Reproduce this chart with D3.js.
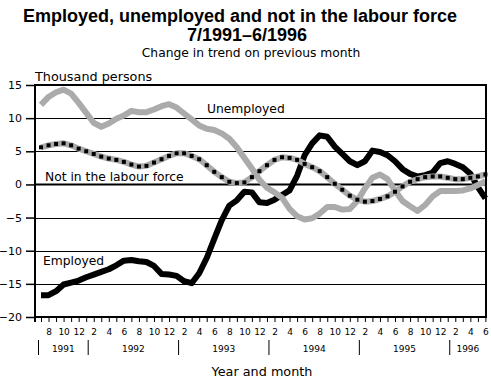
<!DOCTYPE html>
<html>
<head>
<meta charset="utf-8">
<script src="https://cdn.jsdelivr.net/npm/d3@7"></script>
<style>
  html, body { margin: 0; padding: 0; background: #fff; }
  svg { display: block; }
  text { font-family: "DejaVu Sans", Verdana, sans-serif; fill: #000; }
  .title { font-family: "Liberation Sans", Arial, sans-serif; font-weight: bold; }
</style>
</head>
<body>
<svg id="chart" width="491" height="384"></svg>
<script>
// ---- Data (Jul 1991 .. Jun 1996), change in trend on previous month, thousand persons ----
const monthNumbers = [7,8,9,10,11,12,
  1,2,3,4,5,6,7,8,9,10,11,12,
  1,2,3,4,5,6,7,8,9,10,11,12,
  1,2,3,4,5,6,7,8,9,10,11,12,
  1,2,3,4,5,6,7,8,9,10,11,12,
  1,2,3,4,5,6];
const years = ["1991","1992","1993","1994","1995","1996"];
const yTicks = [15,10,5,0,-5,-10,-15,-20];

const employed = [
  -16.7,-16.7,-16.1,-15.1,-14.8,-14.5,
  -14.0,-13.6,-13.2,-12.8,-12.2,-11.5,-11.4,-11.6,-11.7,-12.3,-13.5,-13.6,
  -13.8,-14.6,-14.9,-13.4,-11.1,-8.2,-5.4,-3.2,-2.4,-1.1,-1.2,-2.7,
  -2.8,-2.3,-1.6,-0.9,1.3,4.4,6.2,7.4,7.2,5.7,4.6,3.5,
  2.9,3.5,5.1,4.9,4.4,3.5,2.3,1.6,1.2,1.4,1.8,3.2,
  3.5,3.1,2.6,1.6,-0.4,-2.1];
const unemployed = [
  12.0,13.2,13.9,14.3,13.7,12.3,
  10.8,9.3,8.7,9.2,9.9,10.4,11.1,10.9,10.9,11.3,11.8,12.1,
  11.6,10.7,9.8,8.9,8.4,8.2,7.7,6.9,5.6,4.0,2.4,0.7,
  -0.5,-1.2,-2.0,-3.7,-4.8,-5.3,-5.1,-4.4,-3.4,-3.4,-3.8,-3.7,
  -2.5,-0.6,1.0,1.5,0.8,-0.9,-2.5,-3.3,-4.0,-3.1,-1.8,-1.0,
  -1.0,-1.0,-0.9,-0.6,-0.1,0.5];
const notInLabourForce = [
  5.6,5.9,6.1,6.2,5.9,5.4,
  5.0,4.6,4.2,3.9,3.7,3.4,3.0,2.7,2.8,3.3,3.8,4.3,
  4.7,4.7,4.3,3.8,2.9,1.9,1.1,0.4,0.2,0.3,1.1,2.0,
  2.9,3.7,4.1,4.0,3.7,3.1,2.6,2.0,1.1,0.1,-0.8,-1.7,
  -2.3,-2.6,-2.5,-2.2,-1.8,-1.1,-0.3,0.4,0.8,1.1,1.2,1.2,
  1.0,0.8,0.8,1.0,1.2,1.5];

// ---- Layout ----
const svg = d3.select("#chart");
const L = 35, R = 486, T = 85, B = 317;
const x = d3.scaleLinear().domain([0, monthNumbers.length - 1]).range([41, 485.4]);
const y = d3.scaleLinear().domain([-20, 15]).range([B, T]);
const grayCol = "#ababab";

// Titles
svg.append("text").attr("class","title").attr("x",240).attr("y",22)
  .attr("text-anchor","middle").style("font-size","18px")
  .text("Employed, unemployed and not in the labour force");
svg.append("text").attr("class","title").attr("x",247).attr("y",41)
  .attr("text-anchor","middle").style("font-size","18px")
  .text("7/1991\u20136/1996");
svg.append("text").attr("x",251).attr("y",57)
  .attr("text-anchor","middle").style("font-size","12.3px")
  .text("Change in trend on previous month");
svg.append("text").attr("x",35).attr("y",81)
  .style("font-size","12.8px")
  .text("Thousand persons");

// Gridlines
svg.append("g").selectAll("line").data(yTicks.filter(v => v > -20 && v < 15)).join("line")
  .attr("x1", L).attr("x2", R)
  .attr("y1", d => Math.round(y(d)) + 0.5).attr("y2", d => Math.round(y(d)) + 0.5)
  .attr("stroke", "#000").attr("stroke-width", d => d === 0 ? 2 : 1);

// Y axis (ticks outward, labels)
const yAxis = d3.axisLeft(y).tickValues(yTicks).tickSize(9).tickPadding(4)
  .tickFormat(d3.format("d"));
const gy = svg.append("g").attr("transform", `translate(${L},0)`).call(yAxis);
gy.select(".domain").remove();
gy.selectAll(".tick line").attr("stroke","#000").attr("stroke-width",1.5);
gy.selectAll(".tick text").style("font-size","11px").style("font-family","DejaVu Sans, sans-serif");

// X axis (monthly ticks)
const xAxis = d3.axisBottom(x).tickValues(d3.range(monthNumbers.length)).tickSize(5)
  .tickFormat(i => monthNumbers[i] % 2 === 0 ? String(monthNumbers[i]) : "").tickPadding(7);
const gx = svg.append("g").attr("transform", `translate(0,${B})`).call(xAxis);
gx.select(".domain").remove();
gx.selectAll(".tick line").attr("stroke","#000").attr("stroke-width",1);
gx.selectAll(".tick text").style("font-size","9px").style("font-family","DejaVu Sans, sans-serif");

// Year separators and labels
const janIdx = monthNumbers.map((m,i) => m === 1 ? i : -1).filter(i => i >= 0);
const bounds = [x(0) - 2.5, ...janIdx.map(i => x(i) + 2), R];
svg.append("g").selectAll("line").data(bounds.slice(0, -1)).join("line")
  .attr("x1", d => d).attr("x2", d => d).attr("y1", 340).attr("y2", 355)
  .attr("stroke", "#000").attr("stroke-width", 1);
svg.append("g").selectAll("text").data(years).join("text")
  .attr("x", (d,i) => (bounds[i] + bounds[i+1]) / 2).attr("y", 352)
  .attr("text-anchor","middle").style("font-size","9px").text(d => d);

svg.append("text").attr("x",262).attr("y",376).attr("text-anchor","middle")
  .style("font-size","12.8px").text("Year and month");

// Lines
const line = d3.line().x((d,i) => x(i)).y(d => y(d));
svg.append("path").datum(employed).attr("d", line)
  .attr("fill","none").attr("stroke","#000").attr("stroke-width",6)
  .attr("stroke-linejoin","round");
svg.append("path").datum(notInLabourForce).attr("d", line)
  .attr("fill","none").attr("stroke",grayCol).attr("stroke-width",6)
  .attr("stroke-linejoin","round");
svg.append("path").datum(unemployed).attr("d", line)
  .attr("fill","none").attr("stroke",grayCol).attr("stroke-width",6)
  .attr("stroke-linejoin","round");
svg.append("g").selectAll("rect").data(notInLabourForce).join("rect")
  .attr("x", (d,i) => x(i) - 2).attr("y", d => y(d) - 2)
  .attr("width", 4).attr("height", 4).attr("fill", "#000");

// Frame
svg.append("line").attr("x1",L).attr("x2",L).attr("y1",T-1).attr("y2",B+5)
  .attr("stroke","#000").attr("stroke-width",2);
svg.append("line").attr("x1",L).attr("x2",R+1).attr("y1",T).attr("y2",T)
  .attr("stroke","#000").attr("stroke-width",2);
svg.append("line").attr("x1",R).attr("x2",R).attr("y1",T).attr("y2",B)
  .attr("stroke","#000").attr("stroke-width",2);
svg.append("line").attr("x1",L).attr("x2",R+1).attr("y1",B).attr("y2",B)
  .attr("stroke","#000").attr("stroke-width",2);

// Series labels
svg.append("text").attr("x",207).attr("y",113).style("font-size","12.3px").text("Unemployed");
svg.append("text").attr("x",45).attr("y",181).style("font-size","12.3px").text("Not in the labour force");
svg.append("text").attr("x",43).attr("y",265).style("font-size","12.3px").text("Employed");
</script>
</body>
</html>
